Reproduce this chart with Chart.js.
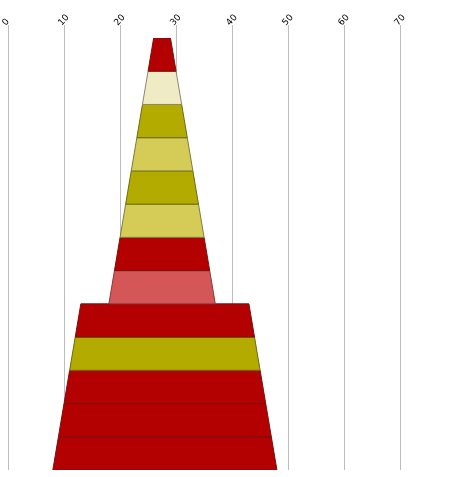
<!DOCTYPE html>
<html>
<head>
<meta charset="utf-8">
<script src="https://cdn.jsdelivr.net/npm/chart.js@4"></script>
<style>
  body { margin: 0; background: #fff; }
  #wrap { width: 452px; height: 477px; }
</style>
</head>
<body>
<div id="wrap"><canvas id="funnel" width="452" height="477"></canvas></div>
<script>
// edges of each band, top edge then bottom edge (value axis units)
const topLeft     = [26, 25, 24, 23, 22, 21, 20, 19, 13, 12, 11, 10, 9];
const topRight    = [29, 30, 31, 32, 33, 34, 35, 36, 43, 44, 45, 46, 47];
const bottomLeft  = [25, 24, 23, 22, 21, 20, 19, 18, 12, 11, 10, 9, 8];
const bottomRight = [30, 31, 32, 33, 34, 35, 36, 37, 44, 45, 46, 47, 48];
const xTicks = [0, 10, 20, 30, 40, 50, 60, 70];

const fills = ['#b30000', '#efebc4', '#b3ab00', '#d4cc57', '#b3ab00', '#d4cc57', '#b30000',
               '#d45656', '#b30000', '#b3ab00', '#b30000', '#b30000', '#b30000'];
const edges = ['#7a1010', '#8a876a', '#6e6a10', '#7d7a3a', '#6e6a10', '#7d7a3a', '#7a1010',
               '#8a3a3a', '#7a1010', '#6e6a10', '#7a1010', '#7a1010', '#7a1010'];

const datasets = topLeft.map((l, i) => ({
	data: [
		{ x: l, y: i },
		{ x: topRight[i], y: i },
		{ x: bottomRight[i], y: i + 1 },
		{ x: bottomLeft[i], y: i + 1 },
		{ x: l, y: i }
	],
	showLine: true,
	fill: 'shape',
	backgroundColor: fills[i],
	borderColor: edges[i],
	borderWidth: 1,
	pointRadius: 0,
	tension: 0
}));

new Chart(document.getElementById('funnel'), {
	type: 'scatter',
	data: { datasets },
	options: {
		responsive: false,
		animation: false,
		layout: { padding: { left: 8, right: 7, top: 13, bottom: 7 } },
		plugins: { legend: { display: false }, tooltip: { enabled: false } },
		scales: {
			x: {
				type: 'linear',
				position: 'top',
				min: 0,
				max: 78,
				afterBuildTicks: axis => { axis.ticks = xTicks.map(v => ({ value: v })); },
				// keep the axis box fixed so the rotated labels don't push the plot around
				afterFit: axis => {
					axis.height = 25;
					axis.paddingLeft = 0;
					axis.paddingRight = 0;
				},
				grid: { color: '#bdbdbd', lineWidth: 1, tickLength: 13, drawOnChartArea: true },
				border: { display: false },
				ticks: {
					color: '#000',
					font: { family: 'DejaVu Sans', size: 9 },
					minRotation: 48,
					maxRotation: 48,
					labelOffset: 4,
					padding: -3
				}
			},
			y: {
				type: 'linear',
				reverse: true,
				min: 0,
				max: 13,
				display: false
			}
		}
	}
});
</script>
</body>
</html>
